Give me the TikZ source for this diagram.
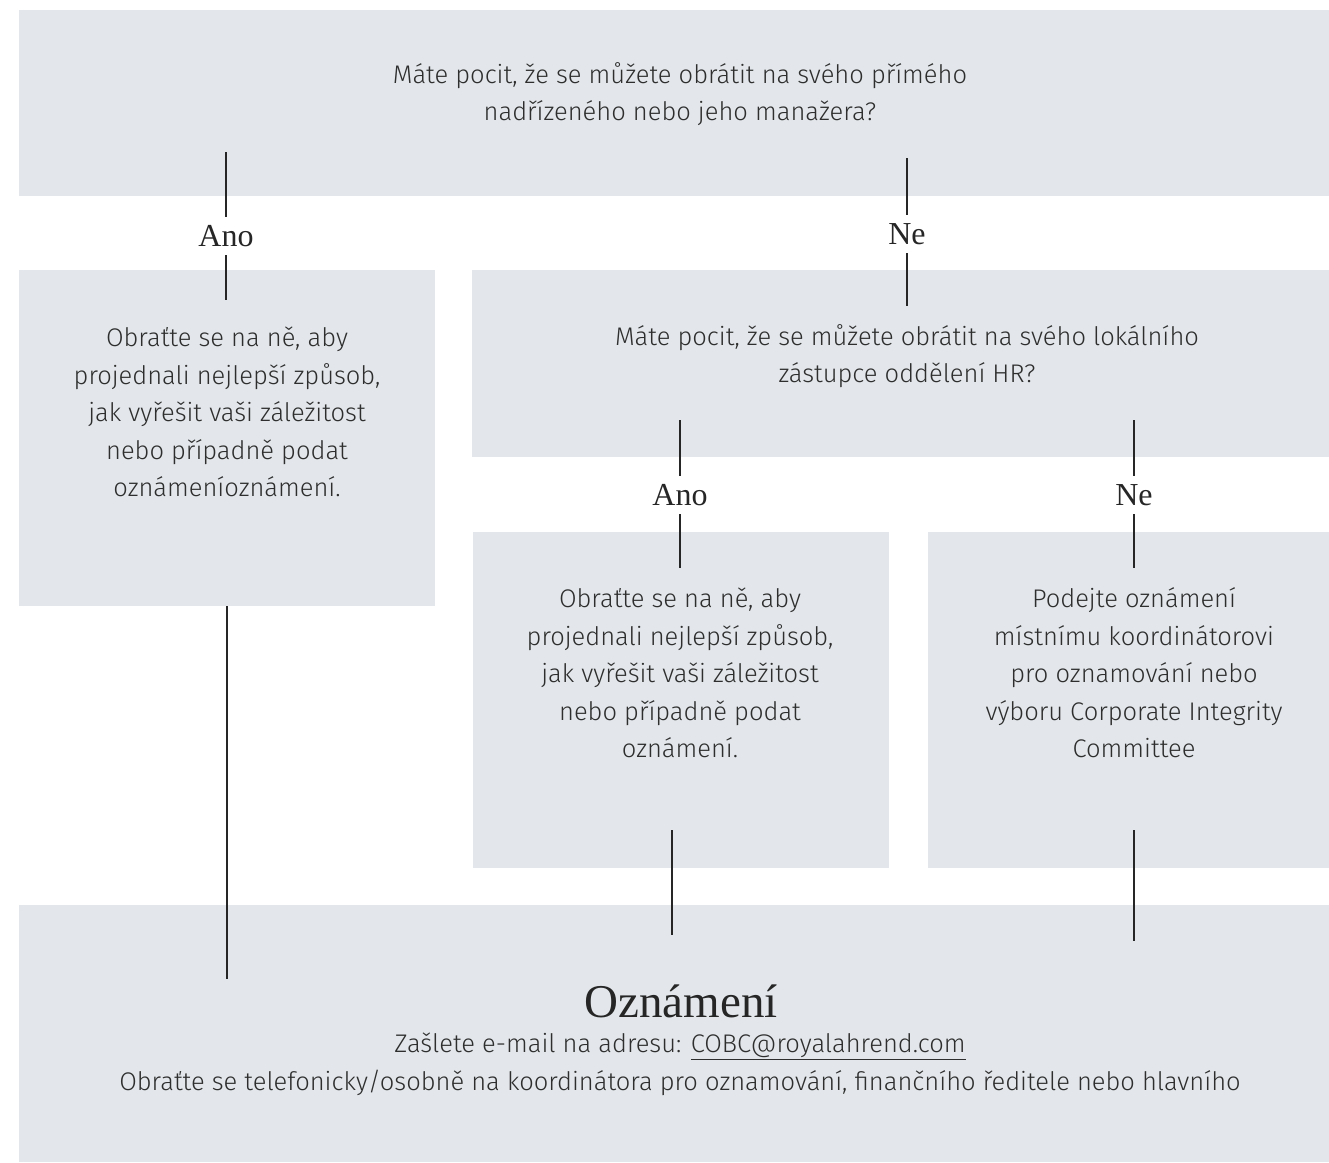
\documentclass[tikz,border=0pt]{standalone}
\usepackage{fontspec}
\newfontfamily\dinfont{Fira Sans Light}
\newfontfamily\labelfont{Liberation Serif}
\usetikzlibrary{positioning}
\definecolor{boxgray}{HTML}{E3E7EB}
\definecolor{txtgray}{HTML}{2E2E2E}
\tikzset{
panel/.style={draw=none, fill=boxgray},
body/.style={font=\dinfont\fontsize{25.5}{37.5}\selectfont, text=txtgray, align=center, inner sep=0pt},
answer/.style={font=\labelfont\fontsize{32}{32}\selectfont, text=black!85, inner sep=0pt, minimum height=38pt},
link/.style={line width=2.2pt, draw=black!85},
}
\begin{document}
\begin{tikzpicture}[x=1pt,y=-1pt]
    \fill[white] (0,0) rectangle (1329,1162);
    \useasboundingbox (0,0) rectangle (1329,1162);
    % panels
    \fill[panel] (19,10) rectangle (1329,196);
    \fill[panel] (19,270) rectangle (435,606);
    \fill[panel] (472,270) rectangle (1329,457);
    \fill[panel] (473,532) rectangle (889,868);
    \fill[panel] (928,532) rectangle (1329,868);
    \fill[panel] (19,905) rectangle (1329,1162);
    % texts
    \node[body] (manager) at (680,94) {Máte pocit, že se můžete obrátit na svého přímého\\nadřízeného nebo jeho manažera?};
    \node[body] (talk1) at (227,412) {Obraťte se na ně, aby\\projednali nejlepší způsob,\\jak vyřešit vaši záležitost\\nebo případně podat\\oznámeníoznámení.};
    \node[body] (hr) at (907,356) {Máte pocit, že se můžete obrátit na svého lokálního\\zástupce oddělení HR?};
    \node[body] (talk2) at (680,673) {Obraťte se na ně, aby\\projednali nejlepší způsob,\\jak vyřešit vaši záležitost\\nebo případně podat\\oznámení.};
    \node[body] (local) at (1134,673) {Podejte oznámení\\místnímu koordinátorovi\\pro oznamování nebo\\výboru Corporate Integrity\\Committee};
    \node[font=\labelfont\fontsize{47}{47}\selectfont, text=black!85, inner sep=0pt] (report) at (681,1001) {Oznámení};
    \node[body] (mail) at (680,1046) {Zašlete e-mail na adresu: \underline{COBC@royalahrend.com}};
    \node[body] (phone) at (680,1083) {Obraťte se telefonicky/osobně na koordinátora pro oznamování, finančního ředitele nebo hlavního};
    % answers
    \node[answer] (ano1) at (226,236) {Ano};
    \node[answer] (ne1) at (907,234) {Ne};
    \node[answer] (ano2) at (680,495) {Ano};
    \node[answer] (ne2) at (1134,495) {Ne};
    % connector ends
    \coordinate (ano1a) at (226,152);
    \coordinate (ano1b) at (226,300);
    \coordinate (ne1a) at (907,158);
    \coordinate (ne1b) at (907,306);
    \coordinate (ano2a) at (680,420);
    \coordinate (ano2b) at (680,568);
    \coordinate (ne2a) at (1134,420);
    \coordinate (ne2b) at (1134,568);
    \coordinate (left1) at (227,606);
    \coordinate (left2) at (227,979);
    \coordinate (mid1) at (672,830);
    \coordinate (mid2) at (672,935);
    \coordinate (right1) at (1134,830);
    \coordinate (right2) at (1134,941);
    % connectors
    \draw[link] (ano1a) -- (ano1);
    \draw[link] (ano1) -- (ano1b);
    \draw[link] (ne1a) -- (ne1);
    \draw[link] (ne1) -- (ne1b);
    \draw[link] (ano2a) -- (ano2);
    \draw[link] (ano2) -- (ano2b);
    \draw[link] (ne2a) -- (ne2);
    \draw[link] (ne2) -- (ne2b);
    \draw[link] (left1) -- (left2);
    \draw[link] (mid1) -- (mid2);
    \draw[link] (right1) -- (right2);
\end{tikzpicture}
\end{document}
